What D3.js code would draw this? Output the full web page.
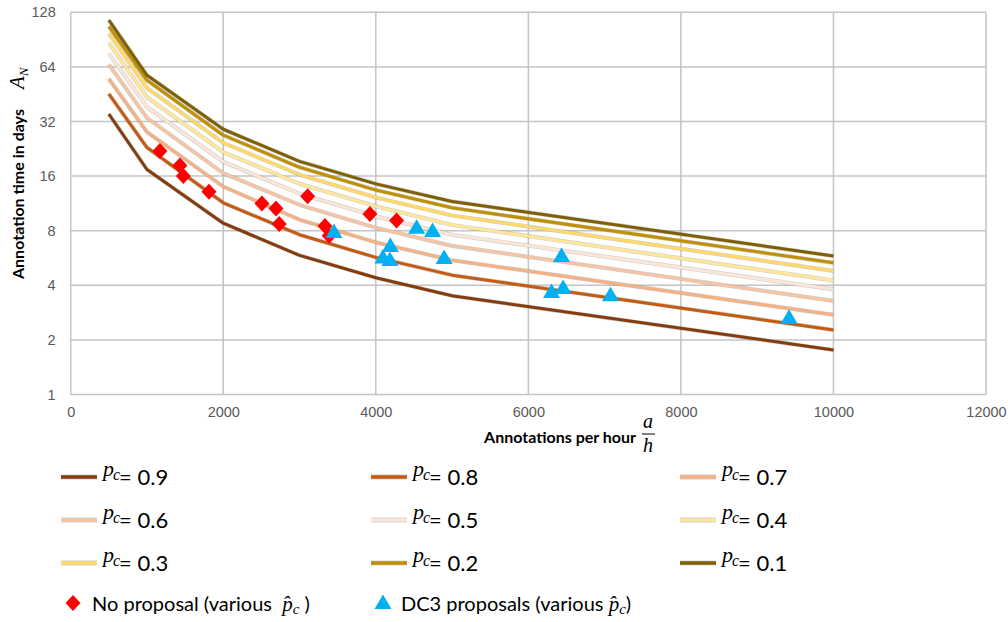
<!DOCTYPE html>
<html>
<head>
<meta charset="utf-8">
<script src="https://cdn.jsdelivr.net/npm/d3@7"></script>
<style>
  body { margin: 0; background: #fff; }
  svg { display: block; font-family: Lato, "Open Sans", sans-serif; }
  .tickLabel { fill: #595959; font-size: 14.5px; }
  .math { font-family: "Liberation Serif", "DejaVu Serif", serif; font-style: italic; }
</style>
</head>
<body>
<div id="chart"></div>
<script>
// Annotations per hour where every pc line is sampled
var ratePoints = [500, 1000, 2000, 3000, 4000, 5000, 10000];

// Annotation time in days for each pc line
var pc09 = [35.2, 17.4, 8.8, 5.85, 4.4, 3.5, 1.76];
var pc08 = [45.4, 23.0, 11.4, 7.6, 5.7, 4.55, 2.27];
var pc07 = [55, 28, 14, 9.2, 6.9, 5.5, 2.75];
var pc06 = [66, 33.5, 16.6, 11.1, 8.3, 6.6, 3.28];
var pc05 = [76, 38.5, 19.2, 12.8, 9.6, 7.6, 3.8];
var pc04 = [87, 43.5, 21.7, 14.5, 10.9, 8.6, 4.25];
var pc03 = [98, 49, 24.4, 16.3, 12.2, 9.7, 4.8];
var pc02 = [107, 54, 26.9, 17.9, 13.4, 10.7, 5.32];
var pc01 = [116, 57.5, 29, 19.3, 14.5, 11.6, 5.8];

var pcNames = ['0.9', '0.8', '0.7', '0.6', '0.5', '0.4', '0.3', '0.2', '0.1'];
var pcSeries = [pc09, pc08, pc07, pc06, pc05, pc04, pc03, pc02, pc01];
var pcColors = ['#843C0C', '#C55A11', '#F4B183', '#F5C4A3', '#FBE5D6', '#FFE699', '#FFD966', '#BF9000', '#7F6000'];

// measured points
var noPropRate = [1170, 1432, 1476, 1813, 2507, 2691, 2734, 3106, 3333, 3389, 3923, 4273];
var noPropDays = [22.0, 18.3, 16.0, 13.1, 11.3, 10.6, 8.7, 12.4, 8.5, 7.5, 9.9, 9.1];
var dc3Rate = [3451, 4191, 4093, 4185, 4535, 4744, 4896, 6435, 6304, 6456, 7077, 9418];
var dc3Days = [7.97, 6.67, 5.76, 5.58, 8.41, 8.07, 5.73, 5.88, 3.72, 3.91, 3.57, 2.68];

var xTicks = [0, 2000, 4000, 6000, 8000, 10000, 12000];
var yTicks = [1, 2, 4, 8, 16, 32, 64, 128];

var svgWidth = 1008;
var svgHeight = 622;

var plot = { left: 70.7, right: 986, top: 12.3, bottom: 394.5 };

var svg = d3.select('#chart')
  .append('svg')
  .attr('width', svgWidth)
  .attr('height', svgHeight);

svg.append('rect').attr('width', svgWidth).attr('height', svgHeight).attr('fill', '#fff');

var xScale = d3.scaleLinear().domain([0, 12000]).range([plot.left, plot.right]);
var yScale = d3.scaleLog().base(2).domain([1, 128]).range([plot.bottom, plot.top]);

// gridlines
var grid = svg.append('g');
grid.selectAll('.vgrid')
  .data(xTicks)
  .enter()
  .append('line')
  .attr('x1', d => xScale(d))
  .attr('x2', d => xScale(d))
  .attr('y1', plot.top)
  .attr('y2', plot.bottom)
  .attr('stroke', '#c4c4c4')
  .attr('stroke-width', 1.5);
grid.selectAll('.hgrid')
  .data(yTicks)
  .enter()
  .append('line')
  .attr('x1', plot.left)
  .attr('x2', plot.right)
  .attr('y1', d => yScale(d))
  .attr('y2', d => yScale(d))
  .attr('stroke', '#c4c4c4')
  .attr('stroke-width', 1.5);

// axes (labels only, Excel style)
var xAxis = d3.axisBottom(xScale).tickValues(xTicks).tickSize(0).tickPadding(12).tickFormat(d3.format('d'));
var yAxis = d3.axisLeft(yScale).tickValues(yTicks).tickSize(0).tickPadding(15).tickFormat(d3.format('d'));

var gx = svg.append('g').attr('transform', `translate(0, ${plot.bottom})`).call(xAxis);
var gy = svg.append('g').attr('transform', `translate(${plot.left}, 0)`).call(yAxis);
[gx, gy].forEach(function(g) {
  g.select('.domain').remove();
  g.selectAll('text').attr('class', 'tickLabel').attr('font-family', null).attr('font-size', null);
});

// pc lines
var line = d3.line()
  .x((d, i) => xScale(ratePoints[i]))
  .y(d => yScale(d));

var lines = svg.append('g').attr('fill', 'none').attr('stroke-linejoin', 'round');
pcSeries.forEach(function(series, i) {
  lines.append('path')
    .attr('d', line(series))
    .attr('stroke', 'rgba(120,120,120,0.35)')
    .attr('stroke-width', 4.2);
  lines.append('path')
    .attr('d', line(series))
    .attr('stroke', pcColors[i])
    .attr('stroke-width', 3);
});

// markers
var diamond = 'M0,-8L7.5,0L0,8L-7.5,0Z';
var triangle = 'M0,-7.5L8.5,7L-8.5,7Z';

svg.append('g').selectAll('path')
  .data(noPropRate)
  .enter()
  .append('path')
  .attr('d', diamond)
  .attr('fill', '#FF0000')
  .attr('transform', (d, i) => `translate(${xScale(d)}, ${yScale(noPropDays[i])})`);

svg.append('g').selectAll('path')
  .data(dc3Rate)
  .enter()
  .append('path')
  .attr('d', triangle)
  .attr('fill', '#00B0F0')
  .attr('transform', (d, i) => `translate(${xScale(d)}, ${yScale(dc3Days[i])})`);

// axis titles
svg.append('text')
  .attr('x', 636)
  .attr('y', 443)
  .attr('text-anchor', 'end')
  .attr('font-weight', 'bold')
  .attr('font-size', 16)
  .attr('fill', '#000')
  .text('Annotations per hour');
svg.append('text').attr('class', 'math').attr('x', 648).attr('y', 428)
  .attr('text-anchor', 'middle').attr('font-size', 20).text('a');
svg.append('line').attr('x1', 642).attr('x2', 655).attr('y1', 434).attr('y2', 434)
  .attr('stroke', '#000').attr('stroke-width', 1);
svg.append('text').attr('class', 'math').attr('x', 648).attr('y', 452)
  .attr('text-anchor', 'middle').attr('font-size', 20).text('h');

var yTitle = svg.append('text')
  .attr('transform', 'translate(24, 279) rotate(-90)')
  .attr('fill', '#000');
yTitle.append('tspan').attr('font-weight', 'bold').attr('font-size', 16).text('Annotation time in days');
yTitle.append('tspan').attr('class', 'math').attr('font-size', 21).attr('dx', 20).text('A');
yTitle.append('tspan').attr('class', 'math').attr('font-size', 13).attr('dy', 4).text('N');

// legend for the pc lines
var legendCols = [61, 371, 680];
var legendRows = [477, 520, 563];

var legend = svg.append('g');
pcNames.forEach(function(name, i) {
  var lx = legendCols[i % 3];
  var ly = legendRows[Math.floor(i / 3)];
  legend.append('line')
    .attr('x1', lx).attr('x2', lx + 36)
    .attr('y1', ly).attr('y2', ly)
    .attr('stroke', 'rgba(120,120,120,0.35)').attr('stroke-width', 5);
  legend.append('line')
    .attr('x1', lx).attr('x2', lx + 36)
    .attr('y1', ly).attr('y2', ly)
    .attr('stroke', pcColors[i]).attr('stroke-width', 3.5);
  var t = legend.append('text').attr('x', lx + 42).attr('y', ly - 1).attr('fill', '#000');
  t.append('tspan').attr('class', 'math').attr('font-size', 22).text('p');
  t.append('tspan').attr('class', 'math').attr('font-size', 16).attr('dy', 4).attr('dx', -1).text('c');
  t.append('tspan').attr('font-size', 22).attr('dy', 5).attr('dx', -1).text('= ' + name);
});

// legend for the markers
var markerLegend = svg.append('g');
markerLegend.append('path').attr('d', diamond).attr('fill', '#FF0000')
  .attr('transform', 'translate(73, 603)');
markerLegend.append('path').attr('d', triangle).attr('fill', '#00B0F0')
  .attr('transform', 'translate(383, 602)');

var t1 = markerLegend.append('text').attr('x', 92).attr('y', 611).attr('font-size', 20).attr('fill', '#000');
t1.append('tspan').text('No proposal (various\u00a0\u00a0');
t1.append('tspan').attr('class', 'math').attr('font-size', 21).text('p\u0302');
t1.append('tspan').attr('class', 'math').attr('font-size', 15).attr('dy', 3).text('c');
t1.append('tspan').attr('dy', -3).text('\u00a0)');

var t2 = markerLegend.append('text').attr('x', 401).attr('y', 611).attr('font-size', 20).attr('fill', '#000');
t2.append('tspan').text('DC3 proposals (various ');
t2.append('tspan').attr('class', 'math').attr('font-size', 21).text('p\u0302');
t2.append('tspan').attr('class', 'math').attr('font-size', 15).attr('dy', 3).text('c');
t2.append('tspan').attr('dy', -3).text(')');
</script>
</body>
</html>
